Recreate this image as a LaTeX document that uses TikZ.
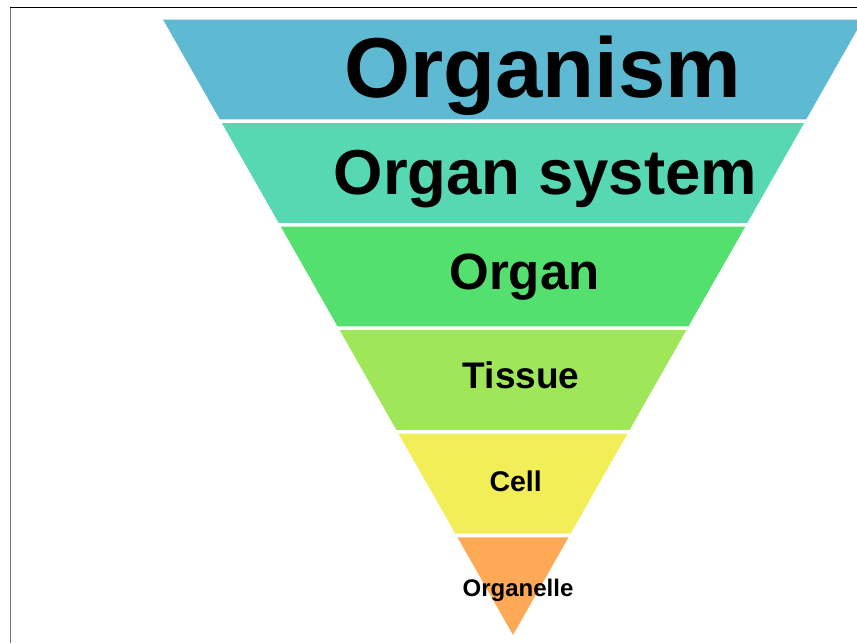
\documentclass[tikz,border=0pt]{standalone}
\usepackage{fontspec}
\setmainfont{Liberation Sans}
\definecolor{cA}{RGB}{93,186,210}
\definecolor{cB}{RGB}{86,216,178}
\definecolor{cC}{RGB}{83,224,110}
\definecolor{cD}{RGB}{159,231,89}
\definecolor{cE}{RGB}{241,238,88}
\definecolor{cF}{RGB}{253,169,86}
\tikzset{lbl/.style={anchor=base,inner sep=0pt,font=\bfseries}}
\begin{document}
\begin{tikzpicture}[x=1pt,y=-1pt]
\useasboundingbox (0,0) rectangle (857,643);
\clip (0,0) rectangle (857,643);
\fill[white] (0,0) rectangle (857,643);
\draw[line width=1.3pt,black!55] (10.3,643) -- (10.3,7);
\draw[line width=1pt,black] (9.7,7) -- (857,7);
\foreach \i/\col in {0/cA,1/cB,2/cC,3/cD,4/cE,5/cF}{
  \pgfmathsetmacro\yt{19.5+103.56*\i}
  \pgfmathsetmacro\yb{min(\yt+99.8,635)}
  \fill[\col] ({163+0.5687*(\yt-19.5)},\yt) -- ({863-0.5687*(\yt-19.5)},\yt)
    -- ({863-0.5687*(\yb-19.5)},\yb) -- ({163+0.5687*(\yb-19.5)},\yb) -- cycle;
}
\node[lbl,font=\bfseries\fontsize{85}{85}\selectfont] (organism) at (542.5,97.3) {Organism};
\node[lbl,font=\bfseries\fontsize{63.5}{63.5}\selectfont] (system) at (545.5,194.3) {Organ system};
\node[lbl,font=\bfseries\fontsize{51}{51}\selectfont] (organ) at (524.5,289.3) {Organ};
\node[lbl,font=\bfseries\fontsize{37}{37}\selectfont] (tissue) at (521.2,388.3) {Tissue};
\node[lbl,font=\bfseries\fontsize{28.5}{28.5}\selectfont] (cell) at (515.7,491.7) {Cell};
\node[lbl,font=\bfseries\fontsize{24}{24}\selectfont] (organelle) at (518,596.7) {Organelle};
\end{tikzpicture}
\end{document}
